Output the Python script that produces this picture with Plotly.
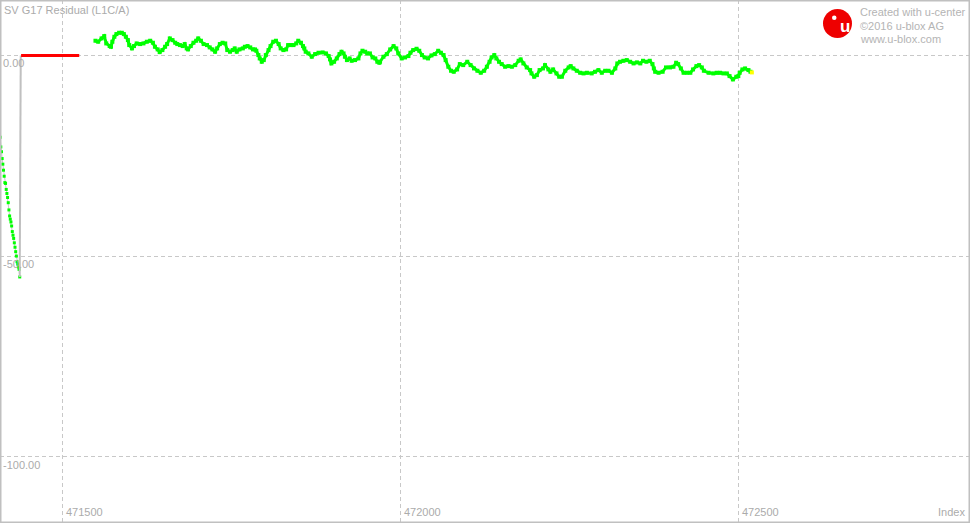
import plotly.graph_objects as go

# u-center residual plot: SV G17 residual (L1C/A) vs epoch index

TITLE = "SV G17 Residual (L1C/A)"

# early segment (steep drift before reset)
early_idx = [471408, 471409, 471410, 471411, 471412, 471413, 471414, 471415, 471416, 471417,
             471418, 471419, 471420, 471421, 471422, 471423, 471424, 471425, 471426, 471427,
             471428, 471429, 471430, 471431, 471432, 471433, 471434, 471435, 471436, 471437]
early_res = [-20.4, -22.8, -24.0, -25.7, -27.1, -28.6, -30.1, -31.7, -31.9, -33.4,
             -34.4, -35.4, -36.7, -38.5, -40.0, -40.8, -41.5, -42.5, -43.9, -44.8,
             -45.6, -46.7, -47.8, -48.9, -50.0, -51.4, -52.0, -52.7, -53.3, -55.2]

# jump back to zero and invalid (red) span
jump_idx = [471437, 471438.5]
jump_res = [-55.2, 0.0]
invalid_idx = [471439, 471525]
invalid_res = [0.0, 0.0]

# main tracked segment
main_idx = [471549, 471553, 471558, 471562, 471565, 471570, 471572, 471574, 471577, 471580,
            471584, 471588, 471591, 471594, 471597, 471599, 471603, 471606, 471610, 471615,
            471620, 471625, 471630, 471634, 471637, 471641, 471644, 471648, 471652, 471655,
            471659, 471663, 471667, 471670, 471674, 471678, 471681, 471684, 471686, 471690,
            471694, 471698, 471701, 471705, 471709, 471714, 471718, 471722, 471726, 471729,
            471733, 471737, 471741, 471744, 471748, 471752, 471755, 471758, 471762, 471767,
            471770, 471774, 471778, 471782, 471785, 471787, 471790, 471792, 471795, 471798,
            471801, 471805, 471808, 471812, 471816, 471820, 471823, 471827, 471831, 471834,
            471838, 471842, 471846, 471849, 471853, 471856, 471858, 471860, 471864, 471869,
            471874, 471879, 471885, 471890, 471894, 471896, 471898, 471902, 471906, 471910,
            471913, 471916, 471918, 471921, 471925, 471928, 471933, 471938, 471941, 471944,
            471948, 471951, 471955, 471959, 471963, 471966, 471969, 471970, 471975, 471980,
            471985, 471990, 471994, 471997, 472002, 472007, 472012, 472015, 472019, 472024,
            472028, 472032, 472036, 472041, 472046, 472051, 472056, 472060, 472064, 472067,
            472071, 472075, 472079, 472084, 472088, 472093, 472099, 472104, 472109, 472114,
            472119, 472124, 472128, 472132, 472135, 472139, 472142, 472146, 472150, 472155,
            472160, 472165, 472170, 472175, 472178, 472182, 472187, 472192, 472194, 472198,
            472202, 472206, 472211, 472214, 472219, 472222, 472226, 472231, 472235, 472239,
            472244, 472249, 472252, 472256, 472261, 472266, 472271, 472276, 472283, 472288,
            472293, 472298, 472303, 472308, 472313, 472318, 472321, 472325, 472330, 472335,
            472340, 472345, 472350, 472355, 472359, 472364, 472369, 472373, 472375, 472377,
            472382, 472388, 472393, 472399, 472404, 472408, 472411, 472415, 472419, 472424,
            472429, 472433, 472438, 472442, 472446, 472449, 472456, 472463, 472468, 472473,
            472478, 472483, 472487, 472492, 472497, 472500, 472502, 472506, 472510, 472515,
            472518]
main_res = [3.65, 3.40, 4.23, 4.81, 2.98, 2.32, 2.15, 3.40, 4.64, 5.31,
            5.64, 5.64, 5.31, 4.64, 3.81, 2.57, 1.74, 2.32, 2.98, 2.82,
            2.98, 3.40, 3.65, 3.15, 2.15, 1.49, 0.82, 1.32, 2.15, 2.82,
            4.23, 3.81, 3.15, 2.82, 2.57, 2.32, 2.82, 1.74, 1.49, 2.32,
            3.15, 3.65, 4.23, 3.65, 2.82, 2.57, 1.99, 1.49, 0.91, 1.74,
            2.82, 3.15, 2.98, 1.32, 0.91, 1.32, 1.74, 0.91, 1.49, 1.74,
            2.15, 2.32, 1.99, 1.49, 1.49, 1.16, 0.08, -0.76, -1.59, -1.17,
            0.08, 1.32, 2.32, 3.40, 3.65, 2.82, 1.74, 1.32, 1.49, 2.57,
            2.57, 2.57, 2.98, 3.65, 3.15, 2.32, 1.74, 0.91, 0.49, -0.34,
            0.33, 0.66, 0.74, 0.49, -0.17, -1.00, -2.00, -1.59, -0.76, 0.33,
            0.91, 0.49, -0.34, -1.17, -0.76, -1.34, -1.17, -0.76, 0.49, 1.16,
            0.91, 0.49, 0.49, -0.51, -0.76, -1.59, -1.84, -1.59, -0.34, 0.32,
            1.49, 2.32, 1.74, 0.49, -0.76, -0.51, -0.17, 0.66, 1.32, 1.65,
            1.15, 0.08, -0.51, -0.76, -0.01, 0.32, 1.15, 0.66, 0.08, -1.17,
            -2.83, -3.83, -4.08, -3.50, -2.17, -2.42, -1.59, -2.42, -3.25, -3.83,
            -4.33, -3.83, -2.83, -1.59, -0.51, 0.08, -0.76, -1.59, -2.17, -2.83,
            -2.67, -2.83, -2.42, -1.34, -1.00, -2.00, -3.00, -3.66, -4.49, -5.32,
            -4.91, -3.66, -3.25, -2.42, -3.50, -4.08, -3.50, -4.49, -5.32, -5.32,
            -3.83, -3.00, -2.67, -3.25, -3.83, -4.33, -4.49, -4.33, -4.49, -4.08,
            -3.66, -4.33, -3.83, -3.83, -4.33, -3.25, -2.00, -1.59, -1.34, -1.17,
            -1.59, -2.00, -1.75, -2.00, -1.34, -1.59, -1.34, -2.17, -3.25, -4.08,
            -4.33, -4.08, -3.00, -3.00, -2.83, -1.83, -2.17, -3.25, -4.33, -4.33,
            -4.33, -3.50, -2.67, -2.42, -3.00, -3.83, -4.33, -4.49, -4.33, -4.33,
            -4.49, -4.49, -5.16, -5.99, -5.32, -5.16, -4.33, -3.50, -3.25, -3.66,
            -4.08]
last_idx = [472520]
last_res = [-4.24]

x_ticks = [471500, 472000, 472500]
x_labels = ["471500", "472000", "472500"]
y_ticks = [-100, -50, 0]
y_labels = ["-100.00", "-50.00", "0.00"]

credit_lines = ["Created with u-center", "\u00a92016 u-blox AG", "www.u-blox.com"]

GREEN = "#00ff00"
GRID = "#c8c8c8"
TXT = "#ababab"
FONT = "Liberation Sans"

fig = go.Figure()
fig.add_trace(go.Scatter(x=early_idx, y=early_res, mode="lines+markers",
                         line=dict(color="#c8c8c8", width=1),
                         marker=dict(symbol="square", size=3, color=GREEN, line_width=0)))
fig.add_trace(go.Scatter(x=jump_idx, y=jump_res, mode="lines",
                         line=dict(color="#c0c0c0", width=2)))
fig.add_trace(go.Scatter(x=invalid_idx, y=invalid_res, mode="lines",
                         line=dict(color="#ff0000", width=3)))
fig.add_trace(go.Scatter(x=main_idx, y=main_res, mode="lines+markers",
                         line=dict(color=GREEN, width=3),
                         marker=dict(symbol="square", size=4, color=GREEN, line_width=0)))
fig.add_trace(go.Scatter(x=last_idx, y=last_res, mode="markers",
                         marker=dict(symbol="square", size=4, color="#ffff00", line_width=0)))

tick_font = dict(family=FONT, size=11, color=TXT)
fig.update_layout(
    width=970, height=523,
    margin=dict(l=0, r=0, t=0, b=0),
    paper_bgcolor="white", plot_bgcolor="white",
    showlegend=False,
    font=dict(family=FONT, size=11, color=TXT),
    xaxis=dict(range=[471407.8, 472842.7], tickvals=x_ticks, ticktext=x_labels,
               showgrid=True, gridcolor=GRID, griddash="4px,3px", gridwidth=1,
               zeroline=False, showline=False, ticks="", tickfont=tick_font,
               ticklabelposition="inside", ticklabelshift=22, ticklabelstandoff=2,
               ticklabeloverflow="allow"),
    yaxis=dict(range=[-116.5, 13.8], tickvals=y_ticks, ticktext=y_labels,
               showgrid=True, gridcolor=GRID, griddash="4px,3px", gridwidth=1,
               zeroline=False, showline=False, ticks="", tickfont=tick_font,
               ticklabelposition="inside", ticklabelshift=8, ticklabelstandoff=0,
               ticklabeloverflow="allow"),
)

# title and axis name
fig.add_annotation(text=TITLE, xref="paper", yref="paper", x=0.002, y=1 - 2 / 523,
                   xanchor="left", yanchor="top", showarrow=False,
                   font=dict(size=11, color=TXT, family=FONT))
fig.add_annotation(text="Index", xref="paper", yref="paper", x=0.997, y=0.005,
                   xanchor="right", yanchor="bottom", showarrow=False,
                   font=dict(size=11, color=TXT, family=FONT))

# u-blox credit block
for i, line in enumerate(credit_lines):
    fig.add_annotation(text=line, xref="paper", yref="paper", x=858 / 970, y=1 - (4 + 13.5 * i) / 523,
                       xanchor="left", yanchor="top", showarrow=False,
                       font=dict(size=11, color="#b4b4b4", family=FONT))
fig.add_shape(type="circle", xref="paper", yref="paper",
              x0=823 / 970, x1=852 / 970, y0=1 - 38 / 523, y1=1 - 9 / 523,
              fillcolor="#ee0000", line=dict(color="#ee0000", width=0))
fig.add_shape(type="circle", xref="paper", yref="paper",
              x0=832 / 970, x1=836.5 / 970, y0=1 - 20 / 523, y1=1 - 15.5 / 523,
              fillcolor="white", line=dict(width=0))
fig.add_annotation(text="<b>u</b>", xref="paper", yref="paper", x=844.5 / 970, y=1 - 26 / 523,
                   xanchor="center", yanchor="middle", showarrow=False,
                   font=dict(size=17, color="white", family=FONT))

# outer frame
fig.add_shape(type="rect", xref="paper", yref="paper", x0=0, x1=1, y0=0, y1=1,
              line=dict(color="#c0c0c0", width=3))

fig.write_html("out.html", config={"displayModeBar": False},
               post_script="document.body.style.margin='0';document.body.style.overflow='hidden';")
